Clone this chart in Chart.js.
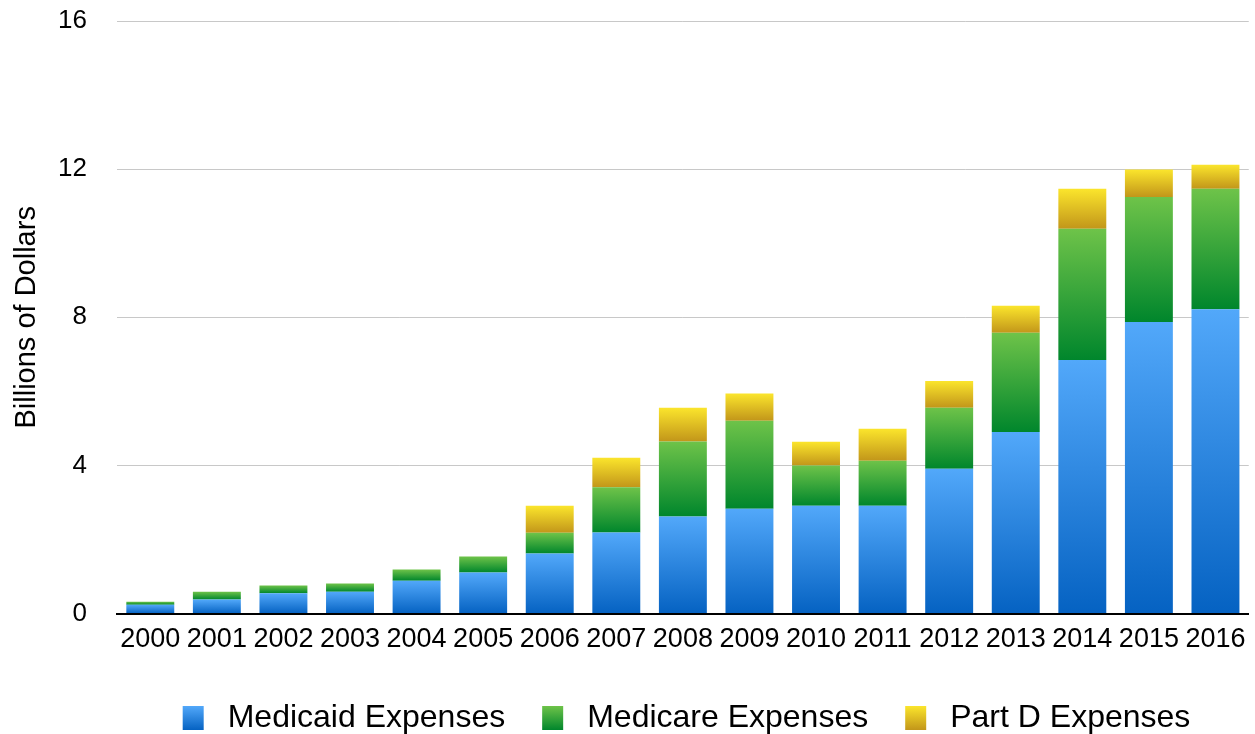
<!DOCTYPE html>
<html>
<head>
<meta charset="utf-8">
<script src="https://cdn.jsdelivr.net/npm/chart.js@4.4.1/dist/chart.umd.min.js"></script>
<style>
  html, body { margin: 0; padding: 0; background: #ffffff; }
  #wrap { width: 1255px; height: 734px; position: relative; }
</style>
</head>
<body>
<div id="wrap"><canvas id="c" width="1255" height="734"></canvas></div>
<script>
const categories = ['2000','2001','2002','2003','2004','2005','2006','2007','2008','2009','2010','2011','2012','2013','2014','2015','2016'];
const medicaid = [0.24,0.38,0.55,0.59,0.89,1.11,1.62,2.19,2.62,2.83,2.91,2.91,3.91,4.90,6.85,7.87,8.22];
const medicare = [0.08,0.21,0.21,0.22,0.30,0.43,0.56,1.22,2.03,2.38,1.09,1.22,1.65,2.68,3.54,3.38,3.25];
const partD    = [0,0,0,0,0,0,0.73,0.80,0.91,0.73,0.64,0.86,0.72,0.73,1.08,0.74,0.65];
const seriesNames = ['Medicaid Expenses','Medicare Expenses','Part D Expenses'];
const yTicks = [0,4,8,12,16];

const palette = [
  { light: '#52A8FA', dark: '#0562C2' },
  { light: '#6EC349', dark: '#00862C' },
  { light: '#FBE52C', dark: '#C2961A' }
];
const FONT = '"Liberation Sans", Arial, Helvetica, sans-serif';

function barGradient(dsIndex) {
  return function(ctx) {
    const pal = palette[dsIndex];
    if (ctx.type !== 'data') return pal.light;
    const chart = ctx.chart;
    const ys = chart.scales && chart.scales.y;
    if (!ys || !chart.chartArea) return pal.light;
    let base = 0;
    for (let d = 0; d < dsIndex; d++) base += chart.data.datasets[d].data[ctx.dataIndex];
    const top = base + chart.data.datasets[dsIndex].data[ctx.dataIndex];
    const y0 = ys.getPixelForValue(top), y1 = ys.getPixelForValue(base);
    if (!(y1 > y0)) return pal.light;
    const g = chart.ctx.createLinearGradient(0, y0, 0, y1);
    g.addColorStop(0, pal.light);
    g.addColorStop(1, pal.dark);
    return g;
  };
}

const LEG_FONT = 32, LEG_BOX_W = 21, LEG_BOX_H = 24, LEG_SHIFT = 55.5;

const legendBoxes = {
  id: 'legendBoxes',
  afterLayout(chart) {
    const lg = chart.legend;
    if (lg) { lg.left += LEG_SHIFT; lg.right += LEG_SHIFT; }
  },
  afterDraw(chart) {
    const lg = chart.legend;
    if (!lg || !lg.legendHitBoxes) return;
    const c = chart.ctx;
    lg.legendHitBoxes.forEach((hb, i) => {
      const pal = palette[i];
      const top = hb.top + Math.max((LEG_FONT - LEG_BOX_H) / 2, 0);
      const g = c.createLinearGradient(0, top, 0, top + LEG_BOX_H);
      g.addColorStop(0, pal.light);
      g.addColorStop(1, pal.dark);
      c.save();
      c.fillStyle = g;
      c.fillRect(hb.left, top, LEG_BOX_W, LEG_BOX_H);
      c.restore();
    });
  }
};

const datasets = [medicaid, medicare, partD].map((arr, i) => ({
  label: seriesNames[i],
  data: arr,
  backgroundColor: barGradient(i),
  borderWidth: 0,
  categoryPercentage: 1.0,
  barPercentage: 0.72,
  stack: 's'
}));

new Chart(document.getElementById('c'), {
  type: 'bar',
  data: { labels: categories, datasets },
  options: {
    responsive: false,
    animation: false,
    devicePixelRatio: 1,
    layout: { padding: { top: 0, right: -7, left: 0, bottom: -10 } },
    plugins: {
      tooltip: { enabled: false },
      legend: {
        position: 'bottom',
        align: 'center',
        labels: {
          font: { family: FONT, size: LEG_FONT },
          color: '#000000',
          boxWidth: 29,
          boxHeight: LEG_BOX_H,
          padding: 37,
          generateLabels(chart) {
            return chart.data.datasets.map((ds, i) => ({
              text: ds.label,
              fillStyle: 'rgba(0,0,0,0)',
              strokeStyle: 'rgba(0,0,0,0)',
              lineWidth: 0,
              hidden: false,
              datasetIndex: i
            }));
          }
        }
      }
    },
    scales: {
      x: {
        stacked: true,
        offset: true,
        grid: { display: false, drawTicks: false },
        border: { display: true, color: '#000000', width: 2 },
        ticks: {
          font: { family: FONT, size: 27 },
          color: '#000000',
          padding: 9.5,
          maxRotation: 0,
          autoSkip: false
        }
      },
      y: {
        stacked: true,
        min: 0,
        max: 16,
        afterBuildTicks(scale) { scale.ticks = yTicks.map(v => ({ value: v })); },
        afterFit(scale) { scale.width = 117; scale.paddingTop = 21; scale.paddingBottom = 0; },
        grid: { color: '#C8C8C8', lineWidth: 1, drawTicks: false },
        border: { display: false },
        ticks: {
          font: { family: FONT, size: 26 },
          color: '#000000',
          padding: 30
        },
        title: {
          display: true,
          text: 'Billions of Dollars',
          font: { family: FONT, size: 29 },
          color: '#000000',
          padding: { top: 10, bottom: 0 }
        }
      }
    }
  },
  plugins: [legendBoxes]
});
</script>
</body>
</html>
